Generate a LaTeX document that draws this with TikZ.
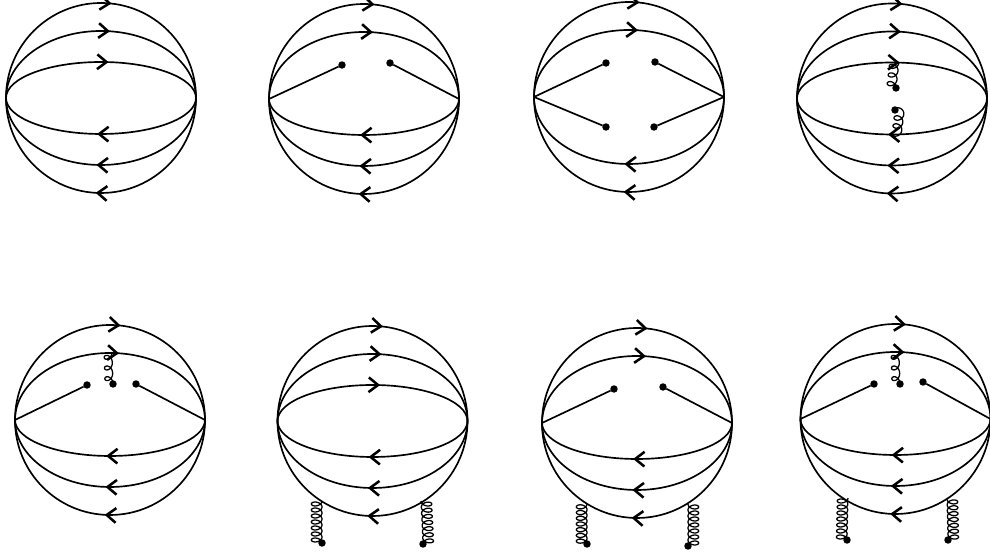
\documentclass[tikz,border=0pt]{standalone}
\usepackage{amsmath,amssymb}
\usetikzlibrary{arrows.meta,calc,decorations.markings}
\tikzset{
  hub/.style={circle, inner sep=0pt, outer sep=0pt, minimum size=142.5pt},
  vertexdot/.style={circle, fill=black, inner sep=0pt, outer sep=0pt, minimum size=5.6pt},
  fermion/.style={line width=1.25pt, postaction={decorate}, decoration={markings, mark=at position #1 with {\arrow[line width=1.9pt]{Straight Barb[length=7pt,width=11pt]}}}},
  spoke/.style={line width=1.25pt},
  gluon/.style={line width=.95pt},
}
\newcommand{\linesup}[2]{\foreach \h in {#2} {\draw[fermion=.535] (#1.west) arc[start angle=180, end angle=0, x radius=95, y radius=\h];}}
\newcommand{\linesdown}[2]{\foreach \h in {#2} {\draw[fermion=.518] (#1.east) arc[start angle=0, end angle=-180, x radius=95, y radius=\h];}}
% from, to, turns, half width of a ring, half height of a ring
\newcommand{\coilline}[5]{\draw[gluon] let \p1=(#1), \p2=(#2) in plot[variable=\t, domain=0:1, samples=26*#3, smooth] ({\x1+(\x2-\x1)*\t+(#4)*(1-cos(360*#3*\t))}, {\y1+(\y2-\y1)*\t+(#5)*sin(360*#3*\t)});}
\begin{document}
\begin{tikzpicture}[x=.75pt, y=.75pt]
    \useasboundingbox (0,0) rectangle (990,555);
    \node[hub] (b1) at (101,457) {};
    \node[hub] (b2) at (364,456) {};
    \node[hub] (b3) at (629,458) {};
    \node[hub] (b4) at (892,456.5) {};
    \node[hub] (b5) at (110,135) {};
    \node[hub] (b6) at (372.5,134) {};
    \node[hub] (b7) at (637,132) {};
    \node[hub] (b8) at (895.5,136) {};
    % first row
    \linesup{b1}{95,67,36}
    \linesdown{b1}{95,67,36}
    \linesup{b2}{95,67}
    \linesdown{b2}{95,67,36}
    \linesup{b3}{95,67}
    \linesdown{b3}{95,67}
    \linesup{b4}{95,67,36}
    \linesdown{b4}{95,67,36}
    \node[vertexdot] (p2a) at (342,490) {};
    \node[vertexdot] (p2b) at (390,492) {};
    \draw[spoke] (b2.west) -- (p2a);
    \draw[spoke] (b2.east) -- (p2b);
    \node[vertexdot] (p3a) at (606,492) {};
    \node[vertexdot] (p3b) at (655,493) {};
    \node[vertexdot] (p3c) at (606,428) {};
    \node[vertexdot] (p3d) at (654,428) {};
    \foreach \n in {p3a,p3c} \draw[spoke] (b3.west) -- (\n);
    \foreach \n in {p3b,p3d} \draw[spoke] (b3.east) -- (\n);
    \node[vertexdot] (p4a) at (896,467) {};
    \node[vertexdot] (p4b) at (895,445) {};
    \coordinate (q4a) at (899,493);
    \coordinate (q4b) at (892,421);
    \coilline{p4a}{q4a}{3}{-3.5pt}{3pt}
    \coilline{p4b}{q4b}{3}{3.5pt}{3pt}
    % second row
    \linesup{b5}{95,67}
    \linesdown{b5}{95,67,36}
    \linesup{b6}{95,67,36}
    \linesdown{b6}{95,67,36}
    \linesup{b7}{95,67}
    \linesdown{b7}{95,67,36}
    \linesup{b8}{95,67}
    \linesdown{b8}{95,67,36}
    \node[vertexdot] (p5a) at (87,170) {};
    \node[vertexdot] (p5b) at (113,171) {};
    \node[vertexdot] (p5c) at (136,171) {};
    \coordinate (q5) at (112,203);
    \draw[spoke] (b5.west) -- (p5a);
    \draw[spoke] (b5.east) -- (p5c);
    \coilline{p5b}{q5}{3}{-3pt}{3.2pt}
    \node[vertexdot] (p6a) at (322,12) {};
    \node[vertexdot] (p6b) at (423,11) {};
    \coordinate (q6a) at (322,54);
    \coordinate (q6b) at (421,54);
    \coilline{p6a}{q6a}{7}{-4pt}{2.5pt}
    \coilline{p6b}{q6b}{7}{4pt}{2.5pt}
    \node[vertexdot] (p7a) at (614,166) {};
    \node[vertexdot] (p7b) at (663,168) {};
    \node[vertexdot] (p7c) at (587,11) {};
    \node[vertexdot] (p7d) at (688,9) {};
    \coordinate (q7a) at (587,51);
    \coordinate (q7b) at (688,51);
    \draw[spoke] (b7.west) -- (p7a);
    \draw[spoke] (b7.east) -- (p7b);
    \coilline{p7c}{q7a}{7}{-4pt}{2.5pt}
    \coilline{p7d}{q7b}{7}{4pt}{2.5pt}
    \node[vertexdot] (p8a) at (874,171) {};
    \node[vertexdot] (p8b) at (900,171) {};
    \node[vertexdot] (p8c) at (923,173) {};
    \node[vertexdot] (p8d) at (847,15) {};
    \node[vertexdot] (p8e) at (948,15) {};
    \coordinate (q8a) at (899,203);
    \coordinate (q8b) at (848,57);
    \coordinate (q8c) at (947,56);
    \draw[spoke] (b8.west) -- (p8a);
    \draw[spoke] (b8.east) -- (p8c);
    \coilline{p8b}{q8a}{3}{-3pt}{3.2pt}
    \coilline{p8d}{q8b}{7}{-4pt}{2.5pt}
    \coilline{p8e}{q8c}{7}{4pt}{2.5pt}
  \end{tikzpicture}
\end{document}
